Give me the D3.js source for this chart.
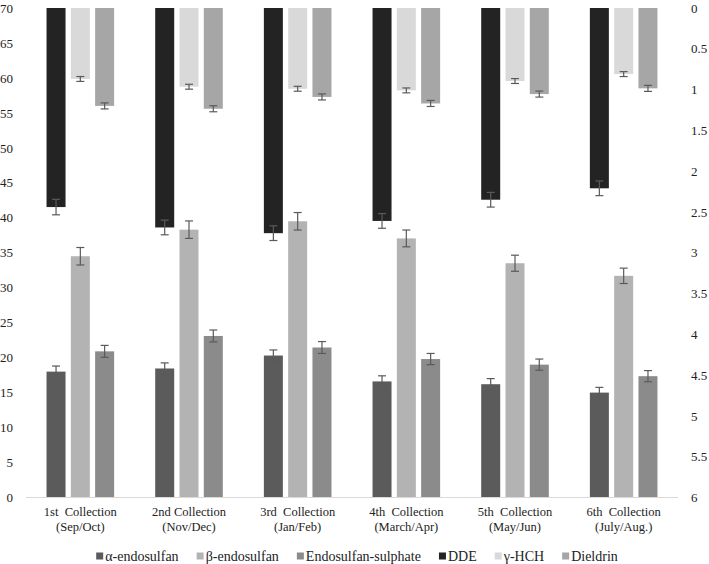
<!DOCTYPE html>
<html>
<head>
<meta charset="utf-8">
<script src="https://cdn.jsdelivr.net/npm/d3@7"></script>
<style>
  html, body { margin: 0; padding: 0; background: #fff; }
  svg { display: block; }
</style>
</head>
<body>
<svg id="chart" width="709" height="564"></svg>
<script>
// ---- data ----
const categoriesLine1 = ["1st  Collection", "2nd Collection", "3rd  Collection", "4th  Collection", "5th  Collection", "6th  Collection"];
const categoriesLine2 = ["(Sep/Oct)", "(Nov/Dec)", "(Jan/Feb)", "(March/Apr)", "(May/Jun)", "(July/Aug.)"];

// left axis (bottom-up bars)
const alphaEndosulfan   = [18.0, 18.45, 20.3, 16.6, 16.2, 15.0];
const alphaErr          = [0.8, 0.8, 0.8, 0.8, 0.8, 0.75];
const betaEndosulfan    = [34.5, 38.3, 39.5, 37.05, 33.5, 31.7];
const betaErr           = [1.25, 1.25, 1.25, 1.2, 1.15, 1.1];
const endosulfanSulphate = [20.9, 23.1, 21.45, 19.8, 19.0, 17.35];
const endoErr           = [0.85, 0.85, 0.85, 0.8, 0.8, 0.8];

// right axis (inverted, top-down bars)
const dde      = [2.44, 2.69, 2.76, 2.61, 2.35, 2.21];
const ddeErr   = [0.095, 0.09, 0.09, 0.09, 0.09, 0.09];
const gammaHCH = [0.87, 0.965, 0.99, 1.01, 0.895, 0.81];
const gammaErr = [0.03, 0.03, 0.03, 0.03, 0.03, 0.03];
const dieldrin = [1.20, 1.235, 1.09, 1.17, 1.055, 0.985];
const dieldrinErr = [0.037, 0.037, 0.037, 0.037, 0.037, 0.037];

const leftTicks  = [0, 5, 10, 15, 20, 25, 30, 35, 40, 45, 50, 55, 60, 65, 70];
const rightTicks = [0, 0.5, 1, 1.5, 2, 2.5, 3, 3.5, 4, 4.5, 5, 5.5, 6];

const legendNames = ["α-endosulfan", "β-endosulfan", "Endosulfan-sulphate", "DDE", "γ-HCH", "Dieldrin"];
const colors = {
  "α-endosulfan": "#5b5b5b",
  "β-endosulfan": "#b3b3b3",
  "Endosulfan-sulphate": "#8b8b8b",
  "DDE": "#232323",
  "γ-HCH": "#d9d9d9",
  "Dieldrin": "#a6a6a6"
};

// ---- layout ----
const FONT = "Liberation Serif";
const svg = d3.select("#chart");
const plotLeft = 26, plotRight = 678, plotTop = 8, plotBottom = 497.5;

const x = d3.scaleBand().domain(d3.range(categoriesLine1.length)).range([plotLeft, plotRight]).padding(0);
const inner = d3.scaleBand().domain([0, 1, 2]).range([-33.8, 33.8]).paddingInner(0.218).paddingOuter(0);
const yL = d3.scaleLinear().domain([0, 70]).range([plotBottom, plotTop]);
const yR = d3.scaleLinear().domain([0, 6]).range([plotTop, plotBottom]);

const center = i => x(i) + x.bandwidth() / 2;

const bottomSeries = [
  { name: "α-endosulfan", vals: alphaEndosulfan, err: alphaErr, slot: 0 },
  { name: "β-endosulfan", vals: betaEndosulfan, err: betaErr, slot: 1 },
  { name: "Endosulfan-sulphate", vals: endosulfanSulphate, err: endoErr, slot: 2 }
];
const topSeries = [
  { name: "DDE", vals: dde, err: ddeErr, slot: 0 },
  { name: "γ-HCH", vals: gammaHCH, err: gammaErr, slot: 1 },
  { name: "Dieldrin", vals: dieldrin, err: dieldrinErr, slot: 2 }
];

bottomSeries.forEach(s => {
  svg.append("g").selectAll("rect").data(s.vals).join("rect")
    .attr("x", (d, i) => center(i) + inner(s.slot))
    .attr("width", inner.bandwidth())
    .attr("y", d => yL(d))
    .attr("height", d => yL(0) - yL(d))
    .attr("fill", colors[s.name]);
});
topSeries.forEach(s => {
  svg.append("g").selectAll("rect").data(s.vals).join("rect")
    .attr("x", (d, i) => center(i) + inner(s.slot))
    .attr("width", inner.bandwidth())
    .attr("y", yR(0))
    .attr("height", d => yR(d) - yR(0))
    .attr("fill", colors[s.name]);
});

function errorBars(s, scale) {
  const g = svg.append("g").attr("stroke", "#5a5a5a").attr("stroke-width", 1.2).attr("fill", "none");
  s.vals.forEach((v, i) => {
    const cx = center(i) + inner(s.slot) + inner.bandwidth() / 2;
    const y1 = scale(v - s.err[i]), y2 = scale(v + s.err[i]);
    g.append("line").attr("x1", cx).attr("x2", cx).attr("y1", y1).attr("y2", y2);
    g.append("line").attr("x1", cx - 4).attr("x2", cx + 4).attr("y1", y1).attr("y2", y1);
    g.append("line").attr("x1", cx - 4).attr("x2", cx + 4).attr("y1", y2).attr("y2", y2);
  });
}
bottomSeries.forEach(s => errorBars(s, yL));
topSeries.forEach(s => errorBars(s, yR));

svg.append("line")
  .attr("x1", plotLeft).attr("x2", plotRight)
  .attr("y1", yL(0)).attr("y2", yL(0))
  .attr("stroke", "#d9d9d9").attr("stroke-width", 1);

const gL = svg.append("g").attr("transform", `translate(13,0)`)
  .call(d3.axisLeft(yL).tickValues(leftTicks).tickSize(0).tickPadding(0).tickFormat(d3.format("d")));
gL.select(".domain").remove();
gL.selectAll("text").style("font-family", FONT).style("font-size", "13px").attr("fill", "#222");

const gR = svg.append("g").attr("transform", `translate(691,0)`)
  .call(d3.axisRight(yR).tickValues(rightTicks).tickSize(0).tickPadding(0).tickFormat(d => String(d)));
gR.select(".domain").remove();
gR.selectAll("text").style("font-family", FONT).style("font-size", "13px").attr("fill", "#222");

const xl = svg.append("g");
categoriesLine1.forEach((c, i) => {
  const t = xl.append("text")
    .attr("text-anchor", "middle")
    .style("font-family", FONT).style("font-size", "12.5px")
    .style("white-space", "pre").attr("fill", "#222");
  t.append("tspan").attr("x", center(i)).attr("y", 516).text(c);
  t.append("tspan").attr("x", center(i)).attr("y", 531).text(categoriesLine2[i]);
});

const leg = svg.append("g");
const items = legendNames.map(n => {
  const g = leg.append("g");
  g.append("rect").attr("x", 0).attr("y", -3.5).attr("width", 7).attr("height", 7).attr("fill", colors[n]);
  const t = g.append("text").attr("x", 9).attr("y", 4.5)
    .style("font-family", FONT).style("font-size", "14px").attr("fill", "#222").text(n);
  return { g, w: 9 + t.node().getComputedTextLength() };
});
const gap = 18;
const total = d3.sum(items, d => d.w) + gap * (items.length - 1);
let cx = 357 - total / 2;
items.forEach(it => {
  it.g.attr("transform", `translate(${cx},556)`);
  cx += it.w + gap;
});
</script>
</body>
</html>
